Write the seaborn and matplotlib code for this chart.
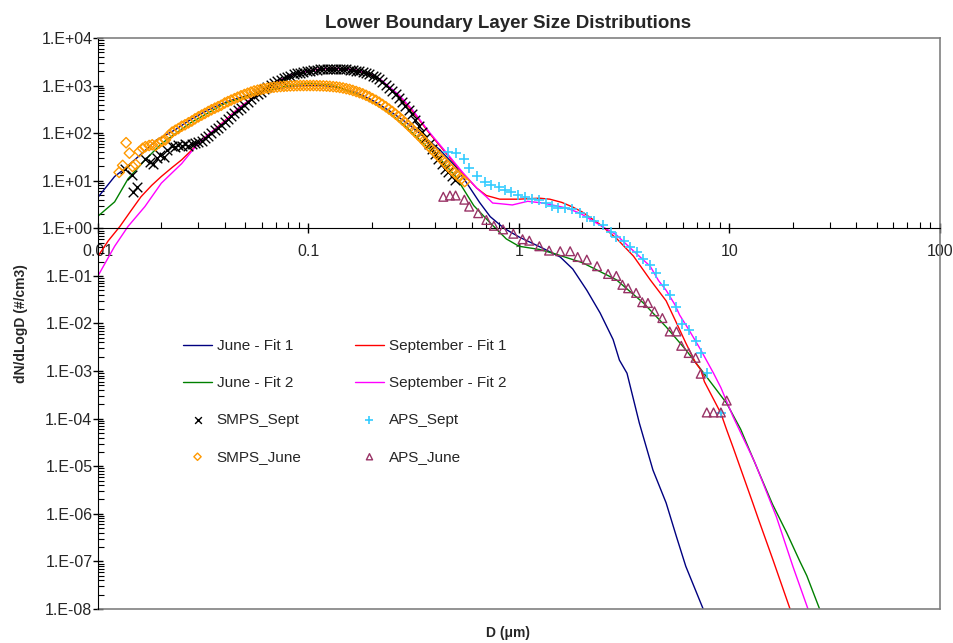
import numpy as np
import matplotlib
matplotlib.use('Agg')
import matplotlib.pyplot as plt
from matplotlib.ticker import LogLocator, FixedLocator, FuncFormatter, NullFormatter
import seaborn as sns

# fitted curves, D in um, dN/dlogD in #/cm3
june_fit1_d = [0.01, 0.012, 0.0132, 0.016, 0.019, 0.0232, 0.0274, 0.033, 0.0394, 0.047,
               0.057, 0.068, 0.0815, 0.1, 0.12, 0.14, 0.17, 0.2, 0.244, 0.29,
               0.35, 0.42, 0.5, 0.58, 0.65, 0.73, 0.85, 1.0, 1.3, 1.57,
               1.8, 2.1, 2.43, 2.8, 3.0, 3.26, 3.73, 4.33, 5.0, 5.6, 6.2, 7.5]
june_fit1_n = [4.5, 12.3, 17, 36, 72, 117, 190, 300, 430, 560,
               690, 830, 950, 1000, 990, 900, 700, 500, 290, 170,
               88, 45, 20, 7.5, 3.5, 1.76, 1.0, 0.66, 0.38, 0.25,
               0.14, 0.05, 0.0166, 0.0046, 0.0017, 9e-4, 8.1e-5, 8.3e-6, 1.7e-6, 3.3e-7, 7.9e-8, 1e-8]

june_fit2_d = [0.01, 0.012, 0.0139, 0.0167, 0.02, 0.0274, 0.04, 0.057, 0.08, 0.1,
               0.13, 0.17, 0.2, 0.244, 0.29, 0.35, 0.42, 0.5, 0.61, 0.73,
               0.87, 1.0, 1.25, 1.45, 2.0, 2.9, 3.9, 5.0, 6.2, 7.3,
               9.7, 11.3, 13.7, 16.0, 18.7, 21.6, 23.3, 26.8]
june_fit2_n = [1.8, 3.6, 11, 27, 60, 163, 420, 700, 1000, 1120,
               1020, 650, 460, 260, 138, 62, 29.5, 12.3, 3.0, 1.3,
               0.6, 0.42, 0.36, 0.3, 0.19, 0.083, 0.027, 0.0085, 0.0028, 1.1e-3,
               2.1e-4, 6e-5, 8e-6, 1.6e-6, 4e-7, 1e-7, 5e-8, 1e-8]

sept_fit1_d = [0.01, 0.0112, 0.0127, 0.0143, 0.016, 0.018, 0.02, 0.0225, 0.025, 0.028,
               0.031, 0.035, 0.039, 0.047, 0.057, 0.068, 0.0815, 0.098, 0.115, 0.13,
               0.15, 0.17, 0.2, 0.22, 0.27, 0.31, 0.375, 0.45, 0.54, 0.63,
               0.70, 0.81, 1.0, 1.25, 1.4, 1.6, 1.8, 2.0, 2.4, 2.9,
               3.5, 4.2, 5.0, 5.8, 6.2, 6.9, 7.3, 7.6, 9.1, 9.7,
               10.4, 12.9, 13.7, 16.1, 19.4]
sept_fit1_n = [0.26, 0.55, 1.09, 2.3, 4.6, 8.0, 12.3, 19, 27.6, 45,
               72, 110, 165, 350, 640, 1100, 1650, 2000, 2250, 2300,
               2250, 2080, 1650, 1300, 600, 300, 100, 38, 14.4, 7,
               4.9, 4.1, 4.1, 4.3, 4.1, 3.5, 2.8, 2.2, 1.25, 0.62,
               0.26, 0.083, 0.03, 0.0074, 0.0039, 0.0015, 1.07e-3, 6e-4, 1.3e-4, 5.8e-5,
               2.5e-5, 1.7e-6, 7.9e-7, 1.07e-7, 1e-8]

sept_fit2_d = [0.01, 0.012, 0.0139, 0.0167, 0.02, 0.025, 0.03, 0.034, 0.039, 0.047,
               0.057, 0.068, 0.0815, 0.098, 0.115, 0.13, 0.15, 0.17, 0.2, 0.22,
               0.27, 0.31, 0.375, 0.45, 0.54, 0.63, 0.70, 0.75, 0.81, 0.93,
               1.1, 1.3, 1.67, 1.95, 2.4, 2.9, 3.35, 4.2, 4.6, 5.0,
               5.5, 5.8, 6.4, 7.3, 8.4, 9.1, 10.4, 13.2, 16.7, 20.0, 23.6]
sept_fit2_n = [0.1, 0.42, 1.1, 2.86, 8.9, 23, 62, 100, 160, 345,
               630, 1100, 1650, 2000, 2250, 2300, 2250, 2100, 1700, 1350,
               630, 320, 105, 40, 15, 7, 4.6, 3.4, 3.3, 3.1,
               3.7, 3.4, 2.7, 2.08, 1.2, 0.73, 0.4, 0.16, 0.08, 0.05,
               0.025, 0.015, 0.0075, 0.0028, 9e-4, 4.5e-4, 1.1e-4, 1.2e-5, 8.7e-7, 7.9e-8, 1e-8]

# measured data
smps_sept_d = [0.0134, 0.0145, 0.0147, 0.0153, 0.0167, 0.0176, 0.0183, 0.0190, 0.0197, 0.0205,
               0.0213, 0.0224, 0.0233, 0.0241, 0.0250, 0.0259, 0.0269, 0.0279, 0.0289, 0.0300,
               0.0311, 0.0322, 0.0334, 0.0346, 0.0359, 0.0372, 0.0385, 0.0400, 0.0414, 0.0429,
               0.0445, 0.0461, 0.0478, 0.0496, 0.0514, 0.0533, 0.0552, 0.0573, 0.0594, 0.0615,
               0.0638, 0.0661, 0.0685, 0.0710, 0.0737, 0.0764, 0.0791, 0.0820, 0.0851, 0.0882,
               0.0914, 0.0947, 0.0982, 0.1018, 0.1055, 0.1094, 0.1134, 0.1176, 0.1219, 0.1263,
               0.1310, 0.1358, 0.1407, 0.1459, 0.1512, 0.1568, 0.1625, 0.1685, 0.1747, 0.1811,
               0.1877, 0.1946, 0.2017, 0.2091, 0.2167, 0.2247, 0.2329, 0.2414, 0.2503, 0.2595,
               0.2690, 0.2788, 0.2890, 0.2996, 0.3106, 0.3220, 0.3338, 0.3460, 0.3587, 0.3718,
               0.3854, 0.3995, 0.4142, 0.4294, 0.4451, 0.4614, 0.4783, 0.4958]
smps_sept_n = [18, 13, 5.7, 7.5, 28, 25, 23, 30, 35, 32,
               45, 55, 52, 56, 53, 58, 55, 60, 62, 65,
               70, 78, 88, 100, 115, 130, 150, 175, 200, 230,
               265, 300, 345, 400, 460, 520, 590, 660, 750, 830,
               920, 1020, 1120, 1220, 1330, 1430, 1530, 1620, 1720, 1800,
               1880, 1950, 2000, 2050, 2100, 2150, 2220, 2250, 2270, 2280,
               2280, 2270, 2250, 2220, 2190, 2150, 2110, 2060, 2000, 1920,
               1830, 1720, 1600, 1480, 1350, 1200, 1050, 900, 780, 660,
               560, 460, 380, 310, 250, 190, 140, 105, 78, 60,
               46, 36, 28, 22, 18, 15, 12.5, 10.5]

smps_june_d = [0.0126, 0.0131, 0.0136, 0.0141, 0.0146, 0.0151, 0.0157, 0.0163, 0.0168, 0.0175,
               0.0181, 0.0188, 0.0195, 0.0202, 0.0209, 0.0217, 0.0225, 0.0233, 0.0241, 0.0250,
               0.0259, 0.0269, 0.0279, 0.0289, 0.0300, 0.0311, 0.0322, 0.0334, 0.0346, 0.0359,
               0.0372, 0.0385, 0.0400, 0.0414, 0.0429, 0.0445, 0.0461, 0.0478, 0.0496, 0.0514,
               0.0533, 0.0552, 0.0573, 0.0594, 0.0615, 0.0638, 0.0661, 0.0685, 0.0710, 0.0737,
               0.0764, 0.0791, 0.0820, 0.0851, 0.0882, 0.0914, 0.0947, 0.0982, 0.1018, 0.1055,
               0.1094, 0.1134, 0.1176, 0.1219, 0.1263, 0.1310, 0.1358, 0.1407, 0.1459, 0.1512,
               0.1568, 0.1625, 0.1685, 0.1747, 0.1811, 0.1877, 0.1946, 0.2017, 0.2091, 0.2167,
               0.2247, 0.2329, 0.2414, 0.2503, 0.2595, 0.2690, 0.2788, 0.2890, 0.2996, 0.3106,
               0.3220, 0.3338, 0.3460, 0.3587, 0.3718, 0.3854, 0.3995, 0.4142, 0.4294, 0.4451,
               0.4614, 0.4783, 0.4958, 0.5140, 0.5328, 0.5523]
smps_june_n = [15, 21, 63, 38, 20, 22, 41, 48, 52, 55,
               57, 55, 62, 68, 72, 90, 105, 115, 125, 140,
               150, 165, 180, 200, 220, 240, 260, 285, 310, 335,
               360, 385, 430, 460, 495, 530, 570, 610, 650, 690,
               730, 770, 800, 830, 860, 885, 905, 925, 940, 955,
               965, 975, 985, 990, 995, 1000, 1000, 1000, 1000, 1000,
               995, 990, 985, 975, 965, 950, 935, 915, 890, 860,
               830, 790, 750, 710, 670, 625, 580, 530, 490, 445,
               400, 360, 320, 285, 250, 220, 190, 165, 142, 122,
               104, 89, 76, 64, 54, 46, 39, 33, 28, 24,
               20, 17, 14.5, 12.5, 11, 9.6]

aps_sept_d = [0.461, 0.50, 0.55, 0.58, 0.63, 0.69, 0.74, 0.80, 0.86, 0.92,
              0.99, 1.07, 1.15, 1.24, 1.34, 1.43, 1.54, 1.66, 1.78, 1.95,
              2.10, 2.27, 2.50, 2.74, 2.90, 3.14, 3.38, 3.63, 3.90, 4.20,
              4.50, 4.90, 5.20, 5.60, 5.95, 6.40, 6.90, 7.30, 7.80, 9.10]
aps_sept_n = [41, 38, 28, 18.5, 12.3, 9.6, 8.2, 7.3, 6.4, 5.9,
              5.0, 4.6, 4.2, 4.0, 3.4, 2.9, 2.7, 2.7, 2.5, 2.1,
              1.76, 1.4, 1.2, 0.85, 0.66, 0.53, 0.41, 0.32, 0.23, 0.167,
              0.113, 0.065, 0.040, 0.022, 0.0098, 0.0072, 0.0042, 0.0024, 9.1e-4, 1.3e-4]

aps_june_d = [0.437, 0.47, 0.50, 0.55, 0.58, 0.64, 0.70, 0.76, 0.84, 0.94,
              1.04, 1.12, 1.25, 1.39, 1.57, 1.75, 1.90, 2.10, 2.35, 2.65,
              2.90, 3.10, 3.30, 3.60, 3.85, 4.10, 4.40, 4.80, 5.20, 5.60,
              5.90, 6.40, 6.90, 7.30, 7.80, 8.40, 9.10, 9.70]
aps_june_n = [4.6, 4.9, 4.9, 4.0, 2.86, 2.08, 1.5, 1.13, 0.95, 0.77,
              0.59, 0.55, 0.42, 0.34, 0.33, 0.33, 0.25, 0.22, 0.16, 0.11,
              0.10, 0.065, 0.055, 0.044, 0.028, 0.027, 0.018, 0.013, 0.0068, 0.0068,
              0.0034, 0.0024, 0.0019, 0.00088, 0.000135, 0.000135, 0.000135, 0.00024]

x_ticks = [0.01, 0.1, 1, 10, 100]
y_ticks = [1e-8, 1e-7, 1e-6, 1e-5, 1e-4, 1e-3, 1e-2, 1e-1, 1, 1e1, 1e2, 1e3, 1e4]

sns.set_style('ticks')
plt.rcParams['font.family'] = ['Liberation Sans', 'DejaVu Sans']

fig = plt.figure(figsize=(9.54, 6.43), dpi=100)
ax = fig.add_axes([0.1027, 0.0529, 0.8826, 0.8880])
ax.set_xscale('log')
ax.set_yscale('log')

fits = [(june_fit1_d, june_fit1_n, '#000080', 'June - Fit 1'),
        (june_fit2_d, june_fit2_n, '#008000', 'June - Fit 2'),
        (sept_fit1_d, sept_fit1_n, '#FF0000', 'September - Fit 1'),
        (sept_fit2_d, sept_fit2_n, '#FF00FF', 'September - Fit 2')]
for d, n, col, lab in fits:
    sns.lineplot(x=d, y=n, color=col, lw=1, label=lab, ax=ax, estimator=None, sort=False)

sns.scatterplot(x=smps_sept_d, y=smps_sept_n, marker='x', color='black', s=48,
                linewidth=1, label='SMPS_Sept', ax=ax, zorder=3)
sns.scatterplot(x=smps_june_d, y=smps_june_n, marker='D', color='#FF9900', facecolor='none',
                edgecolor='#FF9900', s=28, linewidth=1, label='SMPS_June', ax=ax, zorder=3)
sns.scatterplot(x=aps_sept_d, y=aps_sept_n, marker='+', color='#33CCFF', s=55,
                linewidth=1.2, label='APS_Sept', ax=ax, zorder=3)
sns.scatterplot(x=aps_june_d, y=aps_june_n, marker='^', color='#993366', facecolor='none',
                edgecolor='#993366', s=40, linewidth=1, label='APS_June', ax=ax, zorder=3)

ax.set_xlim(0.01, 100)
ax.set_ylim(1e-8, 1e4)
ax.set_xlabel(None)
ax.set_ylabel(None)

# axes look: x axis crossing at y=1, grey frame
ax.spines['bottom'].set_position(('data', 1))
ax.spines['bottom'].set_color('black')
ax.spines['left'].set_color('black')
for s in ['top', 'right']:
    ax.spines[s].set_visible(True)
    ax.spines[s].set_color('#808080')
    ax.spines[s].set_linewidth(1.2)
ax.plot([0, 1], [0, 0], transform=ax.transAxes, color='#808080', lw=1.2, clip_on=False)

ax.xaxis.set_major_locator(FixedLocator(x_ticks))
ax.xaxis.set_minor_locator(LogLocator(base=10, subs=np.arange(2, 10), numticks=100))
ax.yaxis.set_major_locator(FixedLocator(y_ticks))
ax.yaxis.set_minor_locator(LogLocator(base=10, subs=np.arange(2, 10), numticks=200))
ax.xaxis.set_minor_formatter(NullFormatter())
ax.yaxis.set_minor_formatter(NullFormatter())
ax.xaxis.set_major_formatter(FuncFormatter(lambda v, p: f'{v:g}'))
ax.yaxis.set_major_formatter(FuncFormatter(lambda v, p: f'1.E{int(round(np.log10(v))):+03d}'))
ax.tick_params(axis='both', which='major', direction='inout', length=7, width=1,
               labelsize=11.5, color='black', bottom=True, left=True)
ax.tick_params(axis='both', which='minor', direction='in', length=4, width=0.8,
               color='black', bottom=True, left=True)
ax.tick_params(axis='x', which='major', pad=8)
ax.tick_params(axis='y', which='major', pad=0.5)

handles, labels = ax.get_legend_handles_labels()
hmap = dict(zip(labels, handles))
order = ['June - Fit 1', 'June - Fit 2', 'SMPS_Sept', 'SMPS_June',
         'September - Fit 1', 'September - Fit 2', 'APS_Sept', 'APS_June']
ax.legend([hmap[k] for k in order], order, ncol=2, frameon=False, fontsize=11,
          loc='upper left', bbox_to_anchor=(183 / 954, 1 - 339 / 643),
          bbox_transform=fig.transFigure, borderpad=0, borderaxespad=0,
          handlelength=1.9, handletextpad=0.3, columnspacing=3.5,
          labelspacing=1.5, markerscale=0.7)

fig.text(508 / 954, 1 - 23 / 643, 'Lower Boundary Layer Size Distributions',
         ha='center', va='center', fontsize=13.5, fontweight='bold')
fig.text(508 / 954, 1 - 633 / 643, 'D (\u03bcm)', ha='center', va='center',
         fontsize=10, fontweight='bold')
fig.text(21 / 954, 1 - 324 / 643, 'dN/dLogD (#/cm3)', rotation=90, ha='center',
         va='center', fontsize=10, fontweight='bold')

fig.savefig('out.png', dpi=100)
